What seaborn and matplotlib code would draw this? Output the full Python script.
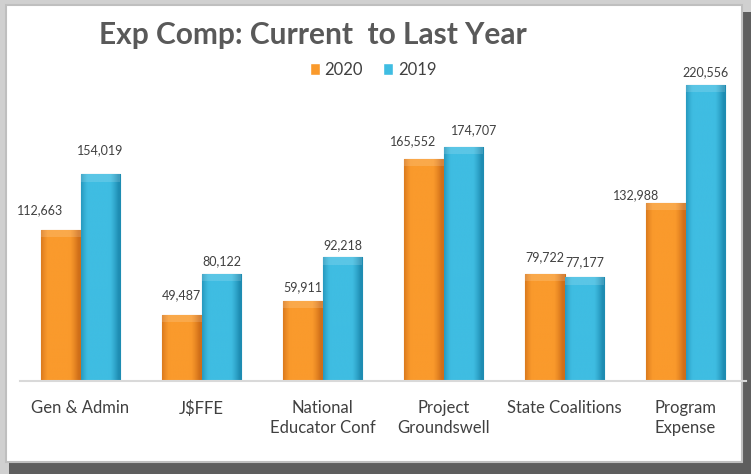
import matplotlib
matplotlib.use("Agg")
import matplotlib.pyplot as plt
import seaborn as sns
import numpy as np
import pandas as pd
from matplotlib.patches import Rectangle

categories = ["Gen & Admin", "J$FFE", "National\nEducator Conf", "Project\nGroundswell",
              "State Coalitions", "Program\nExpense"]
values_2020 = [112663, 49487, 59911, 165552, 79722, 132988]
values_2019 = [154019, 80122, 92218, 174707, 77177, 220556]
years = ["2020", "2019"]

df = pd.DataFrame({
    "category": categories * 2,
    "year": [years[0]] * len(categories) + [years[1]] * len(categories),
    "value": values_2020 + values_2019,
})

# small nudges (pixels) for the data labels, like the hand-placed ones in the original
label_nudge = {
    "2020": [(-20, 5), (0, 4), (0, -2), (-10, 3), (0, 2), (-29, -8)],
    "2019": [(0, 9), (0, -3), (0, -3), (11, 1), (0, 0), (0, -2)],
}

sns.set_theme(style="white")
plt.rcParams["font.family"] = ["Lato", "DejaVu Sans"]

colors = {"2020": ("#FA9A2C", "#CF6E18"), "2019": ("#3FBDE2", "#1E8CB2")}

fig = plt.figure(figsize=(7.51, 4.74), dpi=100)
fig.patch.set_facecolor("#D0D0D0")

# frame with shadow
fig.patches.append(Rectangle((0.012, 0.0), 0.988, 0.975, transform=fig.transFigure,
                             facecolor="#5E5E5E", edgecolor="none", zorder=-2))
fig.patches.append(Rectangle((0.008, 0.025), 0.98, 0.965, transform=fig.transFigure,
                             facecolor="white", edgecolor="#BFBFBF", linewidth=1.5, zorder=-1))

ax = fig.add_axes([20 / 751, 1 - 381 / 474, 726 / 751, (381 - 59) / 474])
ax.set_zorder(2)
ax.set_facecolor("none")
sns.barplot(data=df, x="category", y="value", hue="year", hue_order=years,
            palette={y: colors[y][0] for y in years}, width=0.66, ax=ax,
            legend=True, saturation=1, zorder=2)

ax.set_ylim(0, 240000)
ax.set_xlim(-0.5, len(categories) - 0.5)

# gradient shading on each bar
grad = np.linspace(0, 1, 64)
px = 72 / 100  # points per pixel
for cont, yr in zip(ax.containers, years):
    base = np.array(matplotlib.colors.to_rgb(colors[yr][0]))
    dark = np.array(matplotlib.colors.to_rgb(colors[yr][1]))
    img = np.zeros((1, 64, 3))
    for i, g in enumerate(grad):
        t = max(0.0, abs(g - 0.45) * 2.0 - 0.55) / 0.45
        t = min(1.0, t) ** 1.3
        img[0, i] = base * (1 - t) + dark * t
    for k, bar in enumerate(cont):
        x0, w, h = bar.get_x(), bar.get_width(), bar.get_height()
        bar.set_edgecolor(colors[yr][1])
        bar.set_linewidth(0.8)
        im = ax.imshow(img, extent=[x0, x0 + w, 0, h], aspect="auto", zorder=2.5,
                       interpolation="bicubic")
        im.set_clip_path(bar)
        # top bevel
        ax.add_patch(Rectangle((x0, h - 5500), w, 5500, facecolor="white", alpha=0.15,
                               edgecolor="none", zorder=2.6))
        dx, dy = label_nudge[yr][k]
        ax.annotate(f"{int(h):,}", (x0 + w / 2, h), xytext=(dx * px, (15 + dy) * px),
                    textcoords="offset points", ha="center", va="center",
                    fontsize=9, color="#404040")

ax.set_aspect("auto")
ax.set_xlim(-0.5, len(categories) - 0.5)
ax.set_ylim(0, 240000)

for s in ["top", "right", "left"]:
    ax.spines[s].set_visible(False)
ax.spines["bottom"].set_color("#D9D9D9")
ax.spines["bottom"].set_linewidth(1.5)
ax.set_yticks([])
ax.set_xlabel("")
ax.set_ylabel("")
ax.tick_params(axis="x", length=0, pad=14, labelsize=12, labelcolor="#404040")
for lbl in ax.get_xticklabels():
    lbl.set_linespacing(1.3)

leg = ax.legend(loc="center", bbox_to_anchor=((373 - 20) / 726, 1 - 11 / 322),
                ncol=2, frameon=False, fontsize=12, handlelength=0.6, handleheight=0.7,
                columnspacing=1.2, handletextpad=0.3)
for t in leg.get_texts():
    t.set_color("#404040")

fig.text(313 / 751, 1 - 35 / 474, "Exp Comp: Current  to Last Year", ha="center", va="center",
         fontsize=21.5, fontweight="bold", color="#595959")

fig.savefig("out.png", dpi=100)
